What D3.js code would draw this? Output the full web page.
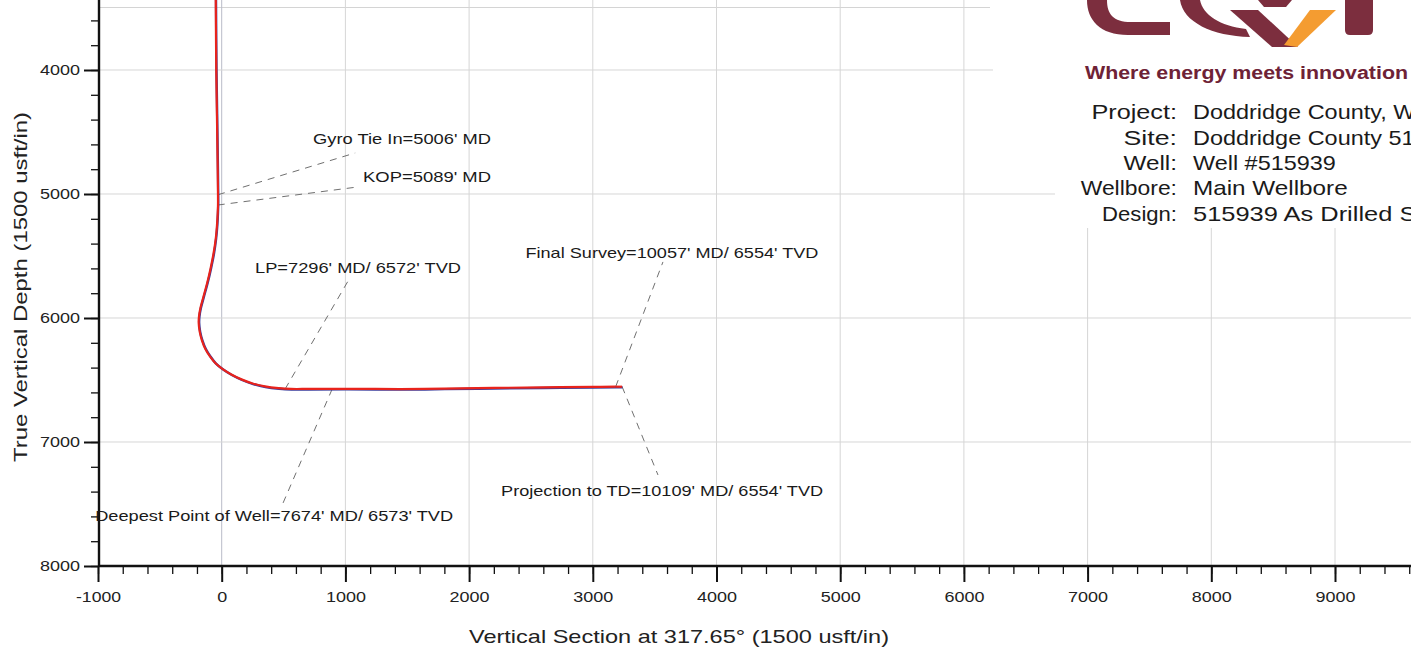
<!DOCTYPE html>
<html><head><meta charset="utf-8">
<script src="https://cdn.jsdelivr.net/npm/d3@7/dist/d3.min.js"></script>
<style>
html,body{margin:0;padding:0;background:#fff;}
svg{display:block;font-family:"Liberation Sans",Arial,sans-serif;}
</style></head>
<body><svg id="c" width="1411" height="651"></svg>
<script>
// ---- data (Vertical Section ft, TVD ft) ----
const actualVS  = [-48,-44,-38,-33,-30,-30,-32,-38,-48,-66,-90,-118,-148,-172,-184,-186,-178,-160,-132,-95,-50,8,78,160,250,350,460,560,700,1000,1441,1800,2200,2600,3000,3185];
const actualTVD = [3430,4000,4400,4750,5006,5089,5150,5250,5360,5480,5600,5720,5830,5920,5990,6040,6110,6180,6250,6310,6365,6412,6455,6495,6528,6552,6566,6572,6572,6571,6573,6569,6564,6559,6556,6554];
const planVS    = [-46,-42,-36,-31,-28,-28,-30,-35,-45,-62,-86,-114,-144,-168,-180,-182,-174,-156,-128,-91,-46,12,82,164,254,354,464,564,704,1004,1445,1804,2204,2604,3004,3189,3240];
const planTVD   = [3430,4000,4400,4750,5006,5089,5150,5250,5360,5480,5600,5720,5830,5920,5990,6040,6110,6180,6250,6310,6368,6416,6460,6500,6533,6557,6571,6577,6577,6576,6578,6574,6569,6564,6560,6558,6558];
const projVS  = [3185,3237];
const projTVD = [6554,6554];

const xTicksMajor = [-1000,0,1000,2000,3000,4000,5000,6000,7000,8000,9000];
const yTicksMajor = [4000,5000,6000,7000,8000];
const xGrid = [0,1000,2000,3000,4000,5000,6000,7000,8000,9000];
const yGrid = [4000,5000,6000,7000];

const annText  = ["Gyro Tie In=5006' MD","KOP=5089' MD","LP=7296' MD/ 6572' TVD","Final Survey=10057' MD/ 6554' TVD","Projection to TD=10109' MD/ 6554' TVD","Deepest Point of Well=7674' MD/ 6573' TVD"];
const annPtVS  = [-30,-32,513,3185,3237,893];
const annPtTVD = [5006,5089,6572,6554,6554,6573];
const annEndVS = [1079,1094,1036,3567,3527,496];
const annEndTVD= [4669,4944,5677,5548,7266,7492];
const annLblVS = [1458,1660,1102,3640,3560,424];
const annLblTVD= [4556,4863,5597,5476,7395,7597];
const annLen   = [178,128,206,293,322,358];

const infoLabels = ["Project:","Site:","Well:","Wellbore:","Design:"];
const infoValues = ["Doddridge County, WV","Doddridge County 515939","Well #515939","Main Wellbore","515939 As Drilled Survey"];

const xTitle = "Vertical Section at 317.65° (1500 usft/in)";
const yTitle = "True Vertical Depth (1500 usft/in)";
const tagline = "Where energy meets innovation";

// ---- scales ----
const x = d3.scaleLinear().domain([-1000, 9700]).range([98, 98 + 10700*0.1237]);
const y = d3.scaleLinear().domain([3435.5, 8000]).range([0, 566]);

const svg = d3.select("#c");
svg.append("rect").attr("width",1411).attr("height",651).attr("fill","#fff");

// grid
const g = svg.append("g");
g.append("line").attr("x1",99).attr("x2",990).attr("y1",7.5).attr("y2",7.5).attr("stroke","#d4d4d4").attr("stroke-width",1);
g.selectAll(".vg").data(xGrid).join("line").attr("x1",d=>x(d)).attr("x2",d=>x(d)).attr("y1",0).attr("y2",566)
  .attr("stroke",(d)=>d===0?"#b9bcc8":"#d6d6d6").attr("stroke-width",1);
g.selectAll(".hg").data(yGrid).join("line").attr("x1",99).attr("x2",1411).attr("y1",d=>y(d)).attr("y2",d=>y(d))
  .attr("stroke","#d6d6d6").attr("stroke-width",1);
// white box behind logo/info
svg.append("rect").attr("x",1055).attr("y",0).attr("width",360).attr("height",228).attr("fill","#fff");
svg.append("rect").attr("x",993).attr("y",0).attr("width",70).attr("height",186).attr("fill","#fff");

// axes
const fmt = d => String(d);
const xAxisMinor = d3.axisBottom(x).tickValues(d3.range(-1000, 9700, 200)).tickSize(8).tickFormat("");
const xAxisMajor = d3.axisBottom(x).tickValues(xTicksMajor).tickSize(16).tickPadding(10).tickFormat(fmt);
const yAxisMinor = d3.axisLeft(y).tickValues(d3.range(3600, 8001, 200)).tickSize(8).tickFormat("");
const yAxisMajor = d3.axisLeft(y).tickValues(yTicksMajor).tickSize(15).tickPadding(4).tickFormat(fmt);

function styleAxis(sel){
  sel.select(".domain").remove();
  sel.selectAll("line").attr("stroke","#111").attr("stroke-width",1.3);
  sel.selectAll("text").attr("fill","#222").style("font-size","14px")
     .attr("textLength", d => String(d).replace("-","").length*10 + (d<0?5:0))
     .attr("lengthAdjust","spacingAndGlyphs");
}
svg.append("g").attr("transform","translate(0,566)").call(xAxisMinor).call(styleAxis);
svg.append("g").attr("transform","translate(0,566)").call(xAxisMajor).call(styleAxis)
   .selectAll("line").attr("stroke-width",2);
svg.append("g").attr("transform","translate(99,0)").call(yAxisMinor).call(styleAxis);
svg.append("g").attr("transform","translate(99,0)").call(yAxisMajor).call(styleAxis)
   .selectAll("line").attr("stroke-width",2);
svg.append("line").attr("x1",98).attr("x2",1411).attr("y1",566).attr("y2",566).attr("stroke","#111").attr("stroke-width",2.4);
svg.append("line").attr("x1",99).attr("x2",99).attr("y1",0).attr("y2",567).attr("stroke","#111").attr("stroke-width",2.4);

// axis titles
svg.append("text").attr("x",679).attr("y",636).attr("dy","0.35em").attr("text-anchor","middle")
  .attr("fill","#222").style("font-size","19px").attr("textLength",420).attr("lengthAdjust","spacingAndGlyphs").text(xTitle);
svg.append("text").attr("transform","translate(20,287) rotate(-90)").attr("dy","0.35em").attr("text-anchor","middle")
  .attr("fill","#222").style("font-size","19px").attr("textLength",350).attr("lengthAdjust","spacingAndGlyphs").text(yTitle);

// annotations
const ann = d3.range(annText.length);
svg.selectAll(".al").data(ann).join("line")
  .attr("x1",i=>x(annPtVS[i])).attr("y1",i=>y(annPtTVD[i]))
  .attr("x2",i=>x(annEndVS[i])).attr("y2",i=>y(annEndTVD[i]))
  .attr("stroke","#707070").attr("stroke-width",1).attr("stroke-dasharray","7,6");
svg.selectAll(".at").data(ann).join("text")
  .attr("x",i=>x(annLblVS[i])).attr("y",i=>y(annLblTVD[i])).attr("dy","0.35em")
  .attr("text-anchor","middle").attr("fill","#1a1a1a").style("font-size","15px")
  .attr("textLength",i=>annLen[i]).attr("lengthAdjust","spacingAndGlyphs")
  .text(i=>annText[i]);

// well paths
const lineX = d3.line().curve(d3.curveCatmullRom.alpha(0.5));
svg.append("path").attr("d", lineX(planVS.map((v,i)=>[x(v), y(planTVD[i])])))
  .attr("fill","none").attr("stroke","#3a3d9c").attr("stroke-width",2.4);
svg.append("path").attr("d", lineX(actualVS.map((v,i)=>[x(v), y(actualTVD[i])])))
  .attr("fill","none").attr("stroke","#e8231c").attr("stroke-width",2.2);
svg.append("path").attr("d", d3.line()(projVS.map((v,i)=>[x(v), y(projTVD[i])])))
  .attr("fill","none").attr("stroke","#e8231c").attr("stroke-width",2.2);

// logo
const maroon="#7c2e3e", orange="#f49c31";
const logo = svg.append("g");
logo.append("path").attr("d","M1087,0 L1107,0 C1107,14 1113,22 1131,22 L1170,22 L1170,35 L1128,35 C1100,35 1087,20 1087,0 Z").attr("fill",maroon);
logo.append("path").attr("d","M1180,0 L1200,0 C1203,15 1220,26 1246,29 L1250,37 C1212,36 1183,22 1180,0 Z").attr("fill",maroon);
logo.append("path").attr("d","M1258,0 L1292,0 L1286,7 L1264,7 Z").attr("fill",maroon);
logo.append("path").attr("d","M1230,10 L1258,10 L1298,47 L1272,47 Z").attr("fill",maroon);
logo.append("path").attr("d","M1310,10 L1336,10 L1297,47 L1284,45 Z").attr("fill",orange);
logo.append("path").attr("d","M1345,0 L1373,0 L1373,30 Q1373,35 1368,35 L1350,35 Q1345,35 1345,30 Z").attr("fill",maroon);

svg.append("text").attr("x",1085).attr("y",73).attr("dy","0.35em").attr("fill","#6e2236")
  .style("font-size","18px").style("font-weight","bold").attr("textLength",323).attr("lengthAdjust","spacingAndGlyphs").text(tagline);

const info = svg.append("g").style("font-size","21px").attr("fill","#1a1a1a");
info.selectAll(".il").data(infoLabels).join("text").attr("x",1177).attr("y",(d,i)=>112+i*25.3).attr("dy","0.35em")
  .attr("text-anchor","end").attr("textLength",d=>d.length*10.7).attr("lengthAdjust","spacingAndGlyphs").text(d=>d);
info.selectAll(".iv").data(infoValues).join("text").attr("x",1193).attr("y",(d,i)=>112+i*25.3).attr("dy","0.35em")
  .attr("textLength",d=>d.length*11.9).attr("lengthAdjust","spacingAndGlyphs").text(d=>d);
</script></body></html>
